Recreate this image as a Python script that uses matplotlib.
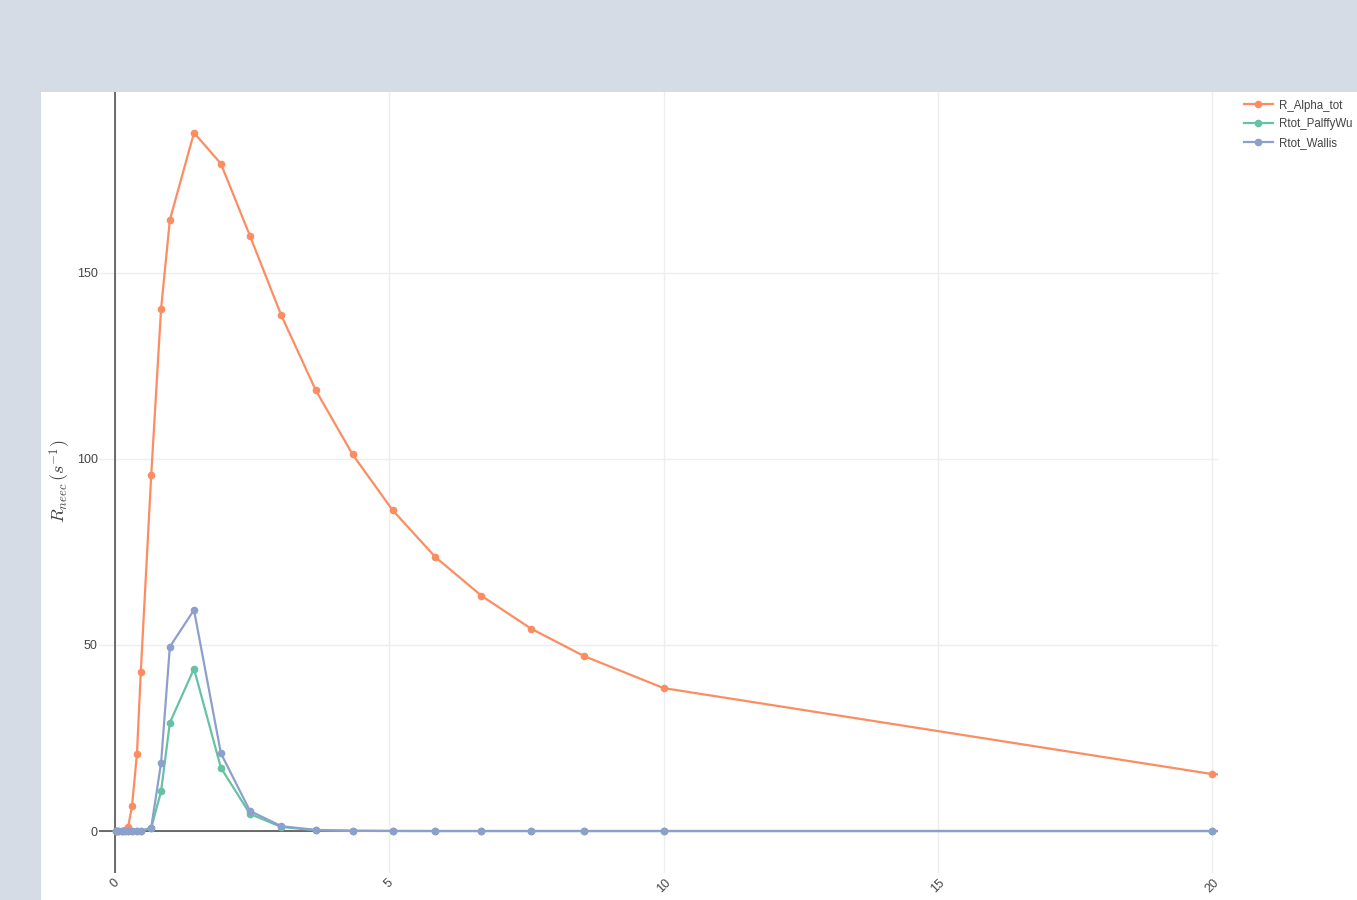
import matplotlib
matplotlib.use("Agg")
import matplotlib.pyplot as plt
from matplotlib.patches import Rectangle

# Energy grid and rates
energy = [0.01, 0.06, 0.12, 0.18, 0.24, 0.31, 0.40, 0.47, 0.66, 0.84, 1.00,
          1.44, 1.93, 2.46, 3.03, 3.66, 4.33, 5.06, 5.84, 6.68, 7.58, 8.55,
          10.0, 20.0, 30.0]
r_alpha_tot = [0.0, 0.0, 0.02, 0.15, 1.1, 6.7, 20.7, 42.7, 95.6, 140.3, 164.2,
               187.6, 179.3, 159.9, 138.6, 118.4, 101.2, 86.2, 73.6, 63.2, 54.4,
               47.0, 38.4, 15.3, 7.5]
rtot_palffywu = [0.0, 0.0, 0.0, 0.0, 0.0, 0.0, 0.0, 0.01, 0.8, 10.7, 29.1,
                 43.6, 17.0, 4.6, 1.1, 0.2, 0.05, 0.01, 0.0, 0.0, 0.0, 0.0,
                 0.0, 0.0, 0.0]
rtot_wallis = [0.0, 0.0, 0.0, 0.0, 0.0, 0.0, 0.0, 0.02, 0.9, 18.3, 49.5,
               59.4, 20.9, 5.4, 1.3, 0.3, 0.08, 0.02, 0.0, 0.0, 0.0, 0.0,
               0.0, 0.0, 0.0]

series_names = ["R_Alpha_tot", "Rtot_PalffyWu", "Rtot_Wallis"]
series_colors = ["#fc8d62", "#66c2a5", "#8da0cb"]
x_ticks = [0, 5, 10, 15, 20]
y_ticks = [0, 50, 100, 150]

W, H = 1357, 900
plt.rcParams["font.family"] = ["Liberation Sans", "DejaVu Sans"]
plt.rcParams["mathtext.fontset"] = "cm"

fig = plt.figure(figsize=(W / 100, H / 100), dpi=100)
fig.patch.set_facecolor("#d5dce6")
fig.patches.append(Rectangle((41 / W, 0), 1, 1 - 92 / H, transform=fig.transFigure,
                             facecolor="white", edgecolor="none", zorder=-10))

left, right, top, bottom = 99 / W, 1218 / W, 1 - 92 / H, 1 - 873 / H
ax = fig.add_axes([left, bottom, right - left, top - bottom])
ax.set_facecolor("white")

for name, vals, col in zip(series_names, [r_alpha_tot, rtot_palffywu, rtot_wallis],
                           series_colors):
    ax.plot(energy, vals, color=col, lw=1.6, marker="o", markersize=4.5,
            label=name, zorder=3)

ax.set_xlim(-0.2917, 20.106)
ax.set_ylim(-11.28, 198.55)

ax.set_xticks(x_ticks)
ax.set_yticks(y_ticks)
ax.set_xticklabels([str(t) for t in x_ticks], rotation=45, ha="center", va="top")
ax.tick_params(axis="both", length=0, labelsize=9, labelcolor="#444444")
ax.tick_params(axis="x", pad=3)
ax.tick_params(axis="y", pad=0.8)
ax.grid(True, color="#eeeeee", lw=1, zorder=0)
ax.set_axisbelow(True)
for s in ax.spines.values():
    s.set_visible(False)

# zero lines
ax.axhline(0, color="#444444", lw=1.1, zorder=1)
ax.axvline(0, color="#444444", lw=1.1, zorder=1)

fig.text(60 / W, 1 - 481 / H, r"$R_{neec}\,(s^{-1})$", rotation=90,
         ha="center", va="center", fontsize=13, color="#444444")

fig.legend(loc="upper left", bbox_to_anchor=(1244 / W, 1 - 99.5 / H), frameon=False,
           fontsize=8.3, labelcolor="#444444", handlelength=2.5, handletextpad=0.5,
           labelspacing=0.58, borderaxespad=0, borderpad=0)

fig.savefig("out.png", dpi=100, facecolor=fig.get_facecolor())
